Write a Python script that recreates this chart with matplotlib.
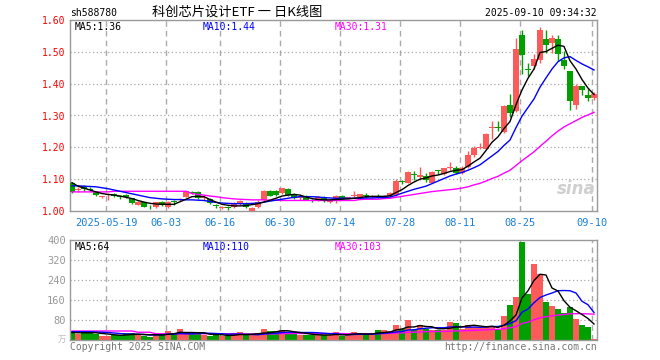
import matplotlib
matplotlib.use("Agg")
import matplotlib.pyplot as plt
import numpy as np

# ---- data (88 trading days, 2025-05-09 .. 2025-09-10) ----
opens = [1.088, 1.067, 1.078, 1.070, 1.061, 1.044, 1.050, 1.052, 1.047, 1.050,
         1.040, 1.020, 1.027, 1.014, 1.014, 1.027, 1.014, 1.031, 1.035, 1.045,
         1.060, 1.059, 1.042, 1.038, 1.018, 1.008, 1.013, 1.014, 1.023, 1.024,
         0.998, 1.012, 1.033, 1.063, 1.064, 1.056, 1.068, 1.052, 1.040, 1.047,
         1.035, 1.035, 1.045, 1.029, 1.030, 1.047, 1.040, 1.046, 1.045, 1.049,
         1.044, 1.047, 1.043, 1.047, 1.050, 1.094, 1.089, 1.117, 1.108, 1.111,
         1.089, 1.126, 1.116, 1.136, 1.136, 1.118, 1.139, 1.176, 1.197, 1.196,
         1.260, 1.264, 1.248, 1.332, 1.314, 1.554, 1.447, 1.455, 1.474, 1.539,
         1.528, 1.539, 1.474, 1.439, 1.332, 1.394, 1.363, 1.354]
highs = [1.092, 1.074, 1.083, 1.074, 1.063, 1.048, 1.058, 1.055, 1.049, 1.052,
         1.042, 1.031, 1.029, 1.018, 1.029, 1.031, 1.031, 1.036, 1.042, 1.064,
         1.063, 1.062, 1.050, 1.040, 1.021, 1.016, 1.016, 1.027, 1.035, 1.027,
         1.012, 1.033, 1.065, 1.066, 1.067, 1.073, 1.071, 1.055, 1.051, 1.050,
         1.038, 1.047, 1.048, 1.036, 1.049, 1.050, 1.045, 1.062, 1.054, 1.056,
         1.049, 1.053, 1.051, 1.059, 1.102, 1.097, 1.126, 1.127, 1.139, 1.120,
         1.125, 1.128, 1.136, 1.155, 1.141, 1.141, 1.188, 1.205, 1.215, 1.246,
         1.283, 1.283, 1.332, 1.369, 1.542, 1.570, 1.466, 1.492, 1.578, 1.570,
         1.554, 1.552, 1.502, 1.439, 1.398, 1.394, 1.384, 1.373]
lows = [1.058, 1.060, 1.064, 1.062, 1.047, 1.042, 1.033, 1.043, 1.037, 1.040,
        1.022, 1.018, 1.012, 1.007, 1.010, 1.016, 1.008, 1.019, 1.030, 1.043,
        1.052, 1.037, 1.034, 1.022, 1.010, 1.005, 1.003, 1.008, 1.018, 1.010,
        0.997, 1.008, 1.030, 1.046, 1.047, 1.054, 1.048, 1.038, 1.035, 1.033,
        1.027, 1.031, 1.028, 1.025, 1.024, 1.038, 1.038, 1.040, 1.043, 1.042,
        1.041, 1.041, 1.041, 1.045, 1.048, 1.084, 1.087, 1.097, 1.097, 1.090,
        1.087, 1.117, 1.114, 1.130, 1.117, 1.115, 1.135, 1.170, 1.196, 1.194,
        1.225, 1.252, 1.245, 1.296, 1.310, 1.429, 1.424, 1.445, 1.465, 1.497,
        1.497, 1.472, 1.445, 1.317, 1.321, 1.363, 1.346, 1.348]
closes = [1.061, 1.069, 1.068, 1.066, 1.049, 1.046, 1.052, 1.046, 1.044, 1.043,
          1.024, 1.029, 1.014, 1.011, 1.027, 1.018, 1.027, 1.028, 1.038, 1.063,
          1.057, 1.040, 1.044, 1.024, 1.015, 1.013, 1.010, 1.024, 1.030, 1.012,
          1.010, 1.029, 1.063, 1.048, 1.050, 1.071, 1.050, 1.040, 1.043, 1.035,
          1.031, 1.045, 1.030, 1.031, 1.047, 1.040, 1.042, 1.048, 1.052, 1.047,
          1.046, 1.045, 1.047, 1.057, 1.095, 1.092, 1.123, 1.114, 1.113, 1.097,
          1.123, 1.125, 1.134, 1.139, 1.120, 1.134, 1.176, 1.199, 1.200, 1.241,
          1.263, 1.260, 1.330, 1.309, 1.510, 1.490, 1.444, 1.476, 1.570, 1.523,
          1.544, 1.492, 1.455, 1.345, 1.394, 1.380, 1.354, 1.369]

ma5 = [1.089, 1.078, 1.072, 1.066, 1.060, 1.055, 1.052, 1.050, 1.047, 1.043,
       1.039, 1.033, 1.028, 1.024, 1.022, 1.021, 1.021, 1.021, 1.029, 1.037,
       1.045, 1.046, 1.045, 1.036, 1.028, 1.021, 1.018, 1.016, 1.016, 1.017,
       1.020, 1.023, 1.028, 1.034, 1.040, 1.047, 1.050, 1.052, 1.050, 1.044,
       1.039, 1.036, 1.035, 1.035, 1.036, 1.037, 1.038, 1.040, 1.042, 1.045,
       1.046, 1.046, 1.046, 1.048, 1.058, 1.067, 1.080, 1.091, 1.100, 1.104,
       1.110, 1.113, 1.118, 1.124, 1.128, 1.130, 1.141, 1.154, 1.166, 1.190,
       1.216, 1.233, 1.259, 1.281, 1.334, 1.380, 1.417, 1.446, 1.498, 1.501,
       1.511, 1.521, 1.517, 1.472, 1.446, 1.413, 1.386, 1.366]
ma10 = [1.079, 1.079, 1.078, 1.077, 1.076, 1.073, 1.070, 1.066, 1.062, 1.058,
        1.054, 1.050, 1.046, 1.042, 1.040, 1.038, 1.037, 1.036, 1.036, 1.035,
        1.035, 1.034, 1.033, 1.030, 1.027, 1.025, 1.024, 1.023, 1.023, 1.023,
        1.024, 1.025, 1.028, 1.031, 1.034, 1.037, 1.040, 1.043, 1.045, 1.045,
        1.045, 1.044, 1.042, 1.041, 1.040, 1.040, 1.040, 1.040, 1.040, 1.041,
        1.041, 1.042, 1.042, 1.044, 1.049, 1.056, 1.062, 1.068, 1.073, 1.078,
        1.086, 1.094, 1.102, 1.110, 1.116, 1.121, 1.128, 1.136, 1.145, 1.159,
        1.173, 1.187, 1.206, 1.223, 1.262, 1.298, 1.325, 1.352, 1.389, 1.418,
        1.446, 1.469, 1.481, 1.485, 1.473, 1.462, 1.453, 1.443]
ma30 = [1.060, 1.060, 1.060, 1.060, 1.060, 1.060, 1.060, 1.062, 1.062, 1.062,
        1.062, 1.062, 1.062, 1.062, 1.062, 1.062, 1.062, 1.062, 1.062, 1.062,
        1.055, 1.052, 1.050, 1.047, 1.045, 1.042, 1.040, 1.038, 1.037, 1.036,
        1.035, 1.035, 1.035, 1.034, 1.034, 1.033, 1.033, 1.033, 1.033, 1.033,
        1.033, 1.033, 1.033, 1.033, 1.033, 1.033, 1.033, 1.033, 1.036, 1.037,
        1.037, 1.037, 1.039, 1.040, 1.043, 1.046, 1.049, 1.052, 1.055, 1.058,
        1.061, 1.063, 1.065, 1.067, 1.069, 1.072, 1.076, 1.082, 1.087, 1.094,
        1.102, 1.109, 1.119, 1.128, 1.143, 1.158, 1.172, 1.186, 1.203, 1.219,
        1.236, 1.251, 1.264, 1.274, 1.284, 1.294, 1.302, 1.310]

volumes = [33, 24, 33, 31, 24, 16, 16, 20, 20, 27, 27, 20, 16, 13, 27, 24, 36, 23, 44, 23,
           23, 33, 20, 16, 20, 16, 16, 27, 31, 20, 20, 27, 44, 36, 36, 40, 27, 27, 20, 20,
           20, 20, 20, 20, 31, 16, 20, 31, 27, 24, 20, 40, 40, 36, 62, 44, 80, 40, 62, 44,
           40, 40, 40, 71, 67, 44, 62, 53, 53, 53, 53, 40, 96, 140, 171, 393, 184, 304, 264, 153,
           136, 124, 109, 132, 84, 60, 52, 4]
vol_ma5 = [30, 29, 29, 29, 29, 26, 24, 21, 19, 20, 22, 23, 22, 21, 21, 20, 23, 25, 31, 30,
           30, 29, 29, 23, 22, 21, 18, 19, 22, 22, 23, 25, 28, 29, 33, 37, 37, 33, 30, 27,
           23, 21, 20, 20, 22, 21, 21, 24, 25, 24, 24, 28, 30, 32, 40, 44, 52, 52, 58, 54,
           53, 45, 45, 47, 52, 52, 57, 59, 56, 53, 55, 50, 59, 76, 100, 168, 197, 238, 263, 260,
           208, 196, 157, 131, 117, 102, 86, 64]
vol_ma10 = [33, 33, 33, 33, 32, 31, 30, 28, 26, 24, 24, 23, 22, 20, 20, 21, 23, 23, 26, 25,
            25, 26, 27, 27, 26, 25, 23, 24, 23, 22, 22, 21, 24, 26, 27, 30, 31, 31, 30, 30,
            30, 29, 27, 25, 25, 22, 21, 22, 23, 23, 23, 25, 27, 29, 32, 34, 40, 41, 45, 47,
            49, 49, 49, 52, 53, 53, 51, 52, 51, 52, 54, 54, 59, 66, 77, 111, 124, 149, 170, 180,
            188, 197, 198, 197, 188, 155, 141, 110]
vol_ma30 = [36, 36, 36, 36, 36, 36, 36, 36, 36, 36, 36, 31, 31, 31, 25, 25, 25, 25, 25, 25,
            25, 25, 25, 25, 25, 25, 25, 25, 25, 24, 23.5, 23.6, 24, 24.2, 24.6, 25.4, 25.7, 26, 26, 25.7,
            25.5, 25.5, 25.6, 25.9, 26, 25.7, 25.2, 25.5, 24.9, 24.9, 24.8, 25.1, 25.7, 26.4, 27.8, 28.7,
            30.9, 31.3, 32.3, 33.1, 33.8, 34.2, 34.1, 35.3, 36.3, 36.4, 37.6, 38.5, 39.6, 40.7, 41.8, 42.4,
            45, 49, 53.6, 66.2, 71.7, 80.8, 88.7, 93, 96.8, 99.6, 101.9, 104.8, 105.2, 105.4, 104.5, 103.3]

date_idx = [6, 16, 25, 35, 45, 55, 65, 75, 87]
date_labels = ['2025-05-19', '06-03', '06-16', '06-30', '07-14', '07-28', '08-11', '08-25', '09-10']
price_ticks = [1.0, 1.1, 1.2, 1.3, 1.4, 1.5, 1.6]
vol_ticks = [80, 160, 240, 320, 400]

RED = '#ff5a5a'
GREEN = '#00a000'
GRID = '#aaaaaa'
MONO = 'DejaVu Sans Mono'
W, H = 660, 360


def trunc2(v):
    return '%.2f' % (int(v * 100) / 100)


x = np.arange(len(closes))
up = np.array(closes) >= np.array(opens)
colors = [RED if u else GREEN for u in up]

fig = plt.figure(figsize=(6.6, 3.6), dpi=100)
ax = fig.add_axes([70 / W, 1 - 211 / H, 527 / W, 191 / H])
axv = fig.add_axes([70 / W, 1 - 340 / H, 527 / W, 100 / H])

grid_x = [i - 0.33 for i in date_idx]

for a in (ax, axv):
    a.set_xlim(-0.33, 87.5)
    for s in a.spines.values():
        s.set_color('#999999')
        s.set_linewidth(1)
    for gx in grid_x:
        a.axvline(gx, color=GRID, lw=1, ls=(0, (4, 3)), zorder=0)
    a.tick_params(length=0)

# ---- price panel ----
ax.set_ylim(1.0, 1.6)
for p in price_ticks[1:-1]:
    ax.axhline(p, color=GRID, lw=0.9, ls=(0, (1, 2)), zorder=0)

for i in x:
    o, c = opens[i], closes[i]
    ax.vlines(i, lows[i], highs[i], color=colors[i], lw=1, zorder=2)
    ax.bar(i, max(abs(c - o), 0.003), bottom=min(o, c), width=0.85,
           color=colors[i], zorder=3, linewidth=0)

ax.plot(x, ma30, color='#ff00ff', lw=1, zorder=4)
ax.plot(x, ma10, color='#0000ff', lw=1, zorder=4)
ax.plot(x, ma5, color='black', lw=1, zorder=4)

ax.set_yticks(price_ticks, ['%.2f' % p for p in price_ticks],
              color='red', fontsize=7, fontfamily=MONO)
ax.tick_params(axis='y', pad=3)
ax.set_xticks(grid_x, date_labels, color='#1a80d8', fontsize=7.5, fontfamily=MONO)
ax.tick_params(axis='x', pad=5)

ax.text(5 / 527, 1 - 7 / 191, 'MA5:' + trunc2(ma5[-1]), transform=ax.transAxes,
        fontsize=7, fontfamily=MONO, color='black', va='center')
ax.text(133 / 527, 1 - 7 / 191, 'MA10:' + trunc2(ma10[-1]), transform=ax.transAxes,
        fontsize=7, fontfamily=MONO, color='#0000ff', va='center')
ax.text(265 / 527, 1 - 7 / 191, 'MA30:' + trunc2(ma30[-1]), transform=ax.transAxes,
        fontsize=7, fontfamily=MONO, color='#ff00ff', va='center')
ax.text(0.997, 0.07, 'sina', transform=ax.transAxes, ha='right', va='bottom',
        fontsize=12, fontweight='bold', style='italic', color='#cfcfcf', zorder=1)

# ---- volume panel ----
axv.set_ylim(0, 400)
for v in vol_ticks[:-1]:
    axv.axhline(v, color=GRID, lw=0.9, ls=(0, (1, 2)), zorder=0)
axv.bar(x, volumes, width=0.84, color=colors, zorder=2, linewidth=0)
axv.plot(x, vol_ma30, color='#ff00ff', lw=1, zorder=3)
axv.plot(x, vol_ma10, color='#0000ff', lw=1, zorder=3)
axv.plot(x, vol_ma5, color='black', lw=1, zorder=3)
axv.set_yticks(vol_ticks, [str(v) for v in vol_ticks], color='#999999',
               fontsize=7.5, fontfamily=MONO)
axv.tick_params(axis='y', pad=3)
axv.set_xticks(grid_x, [''] * len(grid_x))

axv.text(5 / 527, 1 - 7 / 100, 'MA5:%d' % vol_ma5[-1], transform=axv.transAxes,
         fontsize=7, fontfamily=MONO, color='black', va='center')
axv.text(133 / 527, 1 - 7 / 100, 'MA10:%d' % vol_ma10[-1], transform=axv.transAxes,
         fontsize=7, fontfamily=MONO, color='#0000ff', va='center')
axv.text(265 / 527, 1 - 7 / 100, 'MA30:%d' % int(vol_ma30[-1]), transform=axv.transAxes,
         fontsize=7, fontfamily=MONO, color='#ff00ff', va='center')

# ---- header / footer texts ----
fig.text(70 / W, 1 - 13 / H, 'sh588780', fontsize=7, fontfamily=MONO, va='center')
fig.text(237 / W, 1 - 12 / H, '科创芯片设计ETF 一 日K线图', fontsize=9.5, ha='center',
         va='center', family=['Noto Sans CJK SC', 'DejaVu Sans'])
fig.text(597 / W, 1 - 13 / H, '2025-09-10 09:34:32', fontsize=7, fontfamily=MONO,
         ha='right', va='center')
fig.text(66 / W, 1 - 339 / H, '万', fontsize=6, ha='right', va='center', color='#bbbbbb',
         family=['Noto Sans CJK SC', 'DejaVu Sans'])
fig.text(70 / W, 1 - 347 / H, 'Copyright 2025 SINA.COM', fontsize=7, fontfamily=MONO,
         color='#777777', va='center')
fig.text(597 / W, 1 - 347 / H, 'http://finance.sina.com.cn', fontsize=7, fontfamily=MONO,
         color='#777777', ha='right', va='center')

fig.savefig('out.png', dpi=100)
